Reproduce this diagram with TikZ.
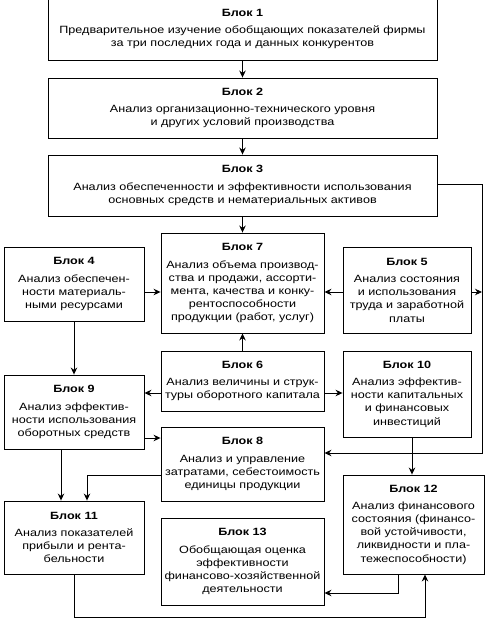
\documentclass[tikz,border=0pt]{standalone}
\usepackage{fontspec}
\setmainfont{Liberation Sans}[FakeStretch=1.2]
\usetikzlibrary{arrows.meta}
\begin{document}
\begin{tikzpicture}[x=1pt,y=-1pt,
  blk/.style={draw,line width=0.9pt,inner sep=0pt,align=center,
    font=\fontsize{10.5}{13.1}\selectfont},
  arr/.style={line width=0.9pt,-{Stealth[length=7pt,width=6.5pt]}},
  ln/.style={line width=0.9pt}]
\useasboundingbox (0,0) rectangle (488,621);
\newcommand{\bt}[1]{\textbf{Блок #1}\\[4.5pt]}
\node[blk,minimum width=389pt,minimum height=62pt] (b1) at (242.5,29) {\bt{1}Предварительное изучение обобщающих показателей фирмы\\за три последних года и данных конкурентов};
\node[blk,minimum width=389pt,minimum height=60pt] (b2) at (242.5,108) {\bt{2}Анализ организационно-технического уровня\\и других условий производства};
\node[blk,minimum width=389pt,minimum height=61pt] (b3) at (242.5,185.5) {\bt{3}Анализ обеспеченности и эффективности использования\\основных средств и нематериальных активов};
\node[blk,minimum width=140pt,minimum height=74pt] (b4) at (74,284) {\bt{4}Анализ обеспечен-\\ности материаль-\\ными ресурсами};
\node[blk,minimum width=163pt,minimum height=100pt] (b7) at (242.5,283) {\bt{7}Анализ объема производ-\\ства и продажи, ассорти-\\мента, качества и конку-\\рентоспособности\\продукции (работ, услуг)};
\node[blk,minimum width=128pt,minimum height=86pt] (b5) at (407,290) {\bt{5}Анализ состояния\\и использования\\труда и заработной\\платы};
\node[blk,minimum width=163pt,minimum height=60pt] (b6) at (242.5,381) {\bt{6}Анализ величины и струк-\\туры оборотного капитала};
\node[blk,minimum width=128pt,minimum height=86pt] (b10) at (407,394) {\bt{10}Анализ эффектив-\\ности капитальных\\и финансовых\\инвестиций};
\node[blk,minimum width=140pt,minimum height=74pt] (b9) at (74,412) {\bt{9}Анализ эффектив-\\ности использования\\оборотных средств};
\node[blk,minimum width=163pt,minimum height=74pt] (b8) at (242.5,464) {\bt{8}Анализ и управление\\затратами, себестоимость\\единицы продукции};
\node[blk,minimum width=141pt,minimum height=99pt] (b12) at (413.5,524.5) {\bt{12}Анализ финансового\\состояния (финансо-\\вой устойчивости,\\ликвидности и пла-\\тежеспособности)};
\node[blk,minimum width=140pt,minimum height=73pt] (b11) at (74,537.5) {\bt{11}Анализ показателей\\прибыли и рента-\\бельности};
\node[blk,minimum width=163pt,minimum height=87pt] (b13) at (242.5,561.5) {\bt{13}Обобщающая оценка\\эффективности\\финансово-хозяйственной\\деятельности};
\coordinate (r1) at (482,184);
\coordinate (r2) at (482,292);
\coordinate (r3) at (482,453);
\coordinate (d1) at (74,617);
\coordinate (d2) at (425,617);
\draw[arr] (b1) -- (b2);
\draw[arr] (b2) -- (b3);
\draw[arr] (b3) -- (b7);
\draw[arr] (b4.east |- 0,292) -- (b7.west |- 0,292);
\draw[arr] (b5.west |- 0,292) -- (b7.east |- 0,292);
\draw[arr] (b5.east |- 0,292) -- (r2);
\draw[arr] (b3.east |- r1) -- (r1) -- (r3) -- (b8.east |- r3);
\draw[arr] (b4) -- (b9);
\draw[arr] (b6) -- (b7);
\draw[arr] (b6.west |- 0,393) -- (b9.east |- 0,393);
\draw[arr] (b6.east |- 0,393) -- (b10.west |- 0,393);
\draw[arr] (b9.east |- 0,438) -- (b8.west |- 0,438);
\draw[arr] (b10.south -| 412,0) -- (b12.north -| 412,0);
\draw[arr] (b9.south -| 61,0) -- (b11.north -| 61,0);
\draw[arr] (b8.west |- 0,475) -| (b11.north -| 87,0);
\draw[arr] (b12.south -| 398,0) |- (b13.east |- 0,593);
\draw[arr] (b11.south -| d1) -- (d1) -- (d2) -- (b12.south -| d2);
\end{tikzpicture}
\end{document}
